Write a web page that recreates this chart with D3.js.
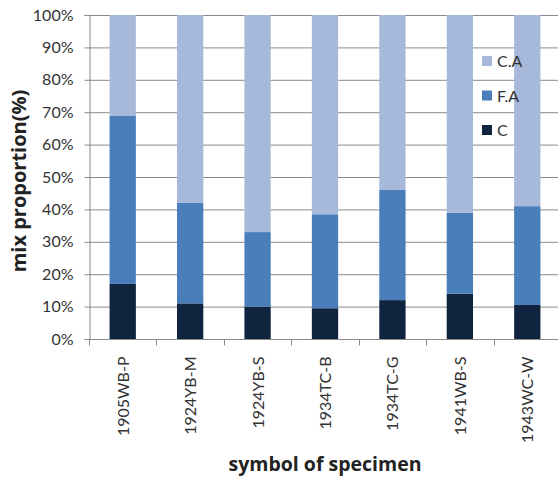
<!DOCTYPE html>
<html>
<head>
<meta charset="utf-8">
<script src="https://cdn.jsdelivr.net/npm/d3@7"></script>
<style>
  html, body { margin: 0; padding: 0; background: #fff; }
  svg { display: block; }
  text { font-family: Lato, "Open Sans", sans-serif; fill: #333; }
  text.title { font-family: "Open Sans", Lato, sans-serif; font-weight: bold; fill: #222; }
</style>
</head>
<body>
<svg id="chart" width="558" height="479"></svg>
<script>
// Specimens and their mix proportions (%), stacked bottom to top: C, F.A, C.A
const specimens = ["1905WB-P", "1924YB-M", "1924YB-S", "1934TC-B", "1934TC-G", "1941WB-S", "1943WC-W"];
const cValues  = [17, 11, 10, 9.5, 12, 14, 10.5];
const faValues = [52, 31, 23, 29, 34, 25, 30.5];
const caValues = [31, 58, 67, 61.5, 54, 61, 59];
const seriesNames = ["C", "F.A", "C.A"];
const yTicks = [0, 10, 20, 30, 40, 50, 60, 70, 80, 90, 100];

const colors = { "C": "#10243f", "F.A": "#4a7ebb", "C.A": "#a7b9da" };

const svg = d3.select("#chart");
const margin = { left: 89, top: 15, right: -3, bottom: 140 };
const width = 558 - margin.left - margin.right;
const height = 479 - margin.top - margin.bottom;
const g = svg.append("g").attr("transform", `translate(${margin.left},${margin.top})`);

const rows = specimens.map((s, i) => ({ name: s, "C": cValues[i], "F.A": faValues[i], "C.A": caValues[i] }));
const stacked = d3.stack().keys(seriesNames)(rows);

const x = d3.scaleBand().domain(specimens).range([0, width]).paddingInner(0.61).paddingOuter(0.305);
const y = d3.scaleLinear().domain([0, 100]).range([height, 0]);

// horizontal gridlines
g.append("g").selectAll("line").data(yTicks.filter(t => t > 0)).join("line")
  .attr("x1", 0).attr("x2", width)
  .attr("y1", d => y(d) + 0.5).attr("y2", d => y(d) + 0.5)
  .attr("stroke", "#8a8a8a").attr("stroke-width", 1);

// stacked bars
g.append("g").selectAll("g").data(stacked).join("g")
  .attr("fill", d => colors[d.key])
  .selectAll("rect").data(d => d).join("rect")
  .attr("x", d => x(d.data.name))
  .attr("width", x.bandwidth())
  .attr("y", d => y(d[1]))
  .attr("height", d => y(d[0]) - y(d[1]));

// y axis
const yAxis = g.append("g").attr("transform", "translate(0.5,0)")
  .call(d3.axisLeft(y).tickValues(yTicks).tickFormat(d => d + "%").tickSize(5).tickPadding(11));
yAxis.select(".domain").attr("stroke", "#8a8a8a");
yAxis.selectAll(".tick line").attr("stroke", "#8a8a8a");
yAxis.selectAll(".tick text").attr("font-size", 16).attr("fill", "#333")
  .style("font-family", "Lato, 'Open Sans', sans-serif");

// x axis: ticks at band boundaries
const xAxisG = g.append("g").attr("transform", `translate(0,${height + 0.5})`);
xAxisG.append("line").attr("x1", 0).attr("x2", width).attr("stroke", "#8a8a8a");
const step = x.step();
xAxisG.selectAll("line.tk").data(d3.range(specimens.length + 1)).join("line")
  .attr("class", "tk")
  .attr("x1", i => Math.round(i * step) + 0.5).attr("x2", i => Math.round(i * step) + 0.5)
  .attr("y1", 0).attr("y2", 6).attr("stroke", "#8a8a8a");
xAxisG.selectAll("text").data(specimens).join("text")
  .attr("transform", d => `translate(${x(d) + x.bandwidth() / 2 + 6},${17}) rotate(-90)`)
  .attr("text-anchor", "end")
  .attr("font-size", 16)
  .text(d => d);

// axis titles
svg.append("text").attr("class", "title")
  .attr("transform", "translate(26,181) rotate(-90)")
  .attr("text-anchor", "middle")
  .attr("font-size", 20)
  .text("mix proportion(%)");
svg.append("text").attr("class", "title")
  .attr("x", 325).attr("y", 471)
  .attr("text-anchor", "middle")
  .attr("font-size", 19.5)
  .text("symbol of specimen");

// legend (top to bottom: C.A, F.A, C)
const legend = svg.append("g").attr("transform", "translate(482,56)");
const legendItems = legend.selectAll("g").data(seriesNames.slice().reverse()).join("g")
  .attr("transform", (d, i) => `translate(0,${i * 34.5})`);
legendItems.append("rect").attr("width", 10).attr("height", 10).attr("fill", d => colors[d]);
legendItems.append("text").attr("x", 15).attr("y", 11).attr("font-size", 16).text(d => d);
</script>
</body>
</html>
